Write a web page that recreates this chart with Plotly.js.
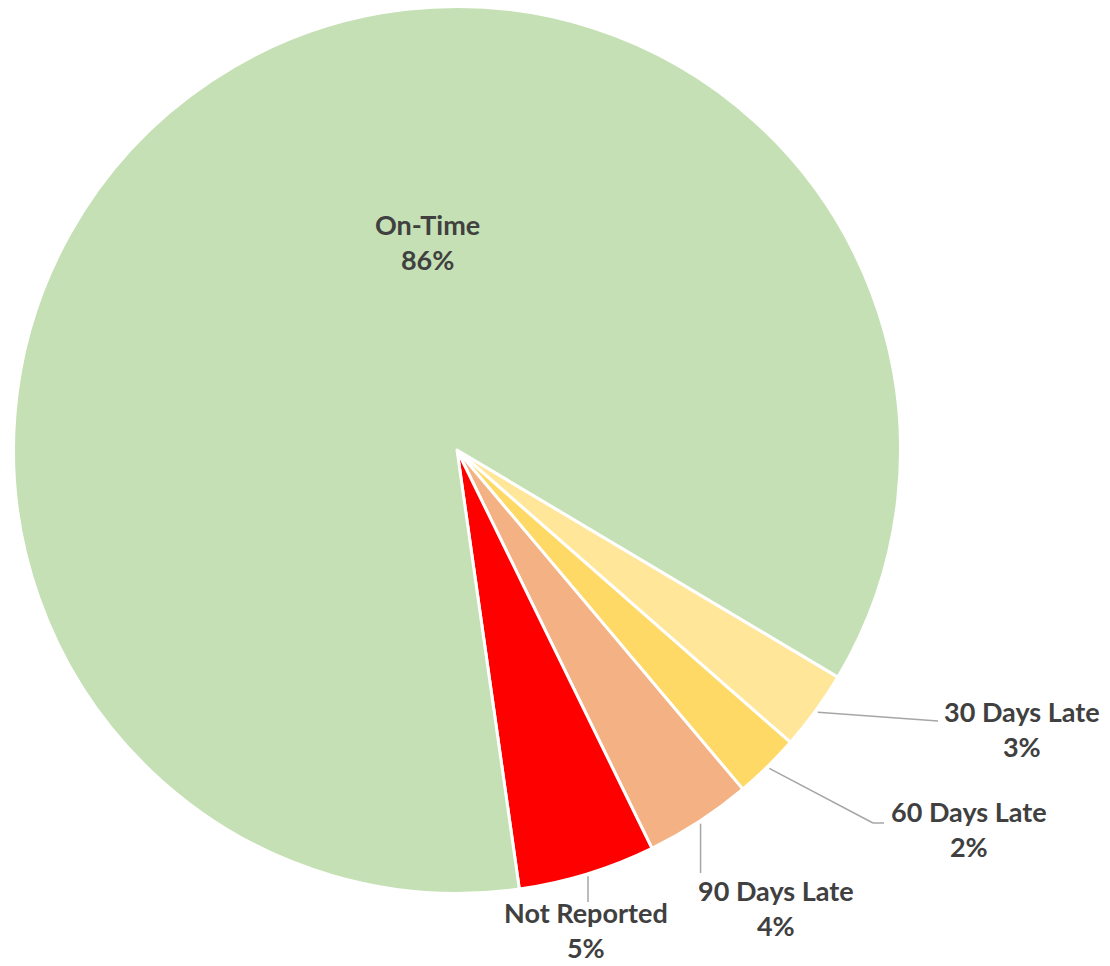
<!DOCTYPE html>
<html><head><meta charset="utf-8">
<script src="https://cdn.plot.ly/plotly-3.0.1.min.js"></script>
<style>html,body{margin:0;padding:0;background:#fff;}</style>
</head><body><div id="chart" style="width:1110px;height:966px;"></div>
<script>
// ---- data ----
const categories = ['30 Days Late', '60 Days Late', '90 Days Late', 'Not Reported', 'On-Time'];
const shares = [2.9, 2.4, 3.9, 5.0, 85.8];
const sliceColors = ['#ffe699', '#ffd966', '#f4b183', '#ff0000', '#c5e0b4'];

// ---- layout geometry (pixels) ----
const W = 1110, H = 966;
const CX = 457, CY = 450, R = 443.5;
const ROTATION = 120.8; // degrees clockwise from 12 o'clock
const LABEL_FONT = {family: 'Lato, "Open Sans", sans-serif', size: 27, color: '#404040', weight: 'bold'};
const LINE_COLOR = '#a6a6a6';

// label placement per category (pixel layout), leader path after the slice edge point
const placement = {
  '30 Days Late': {x: 1022, y: 729, path: e => [[938, 721]]},
  '60 Days Late': {x: 969, y: 829, path: e => [[873, 823], [884, 823]]},
  '90 Days Late': {x: 776, y: 908, path: e => [[e[0], 873]]},
  'Not Reported': {x: 586, y: 930, path: e => [[e[0], 902]]},
  'On-Time': {x: 427, y: 242, path: null}
};

const total = shares.reduce((a, b) => a + b, 0);
const px = x => x / W;
const py = y => 1 - y / H;

const shapes = [];
const annotations = [];
let acc = 0;
categories.forEach((cat, i) => {
  const startDeg = ROTATION + acc / total * 360;
  acc += shares[i];
  const endDeg = ROTATION + acc / total * 360;
  const mid = (startDeg + endDeg) / 2 * Math.PI / 180;
  const edge = [CX + (R + 2.5) * Math.sin(mid), CY - (R + 2.5) * Math.cos(mid)];
  const pl = placement[cat];
  const pct = Math.round(shares[i] / total * 100) + '%';
  annotations.push({
    x: px(pl.x), y: py(pl.y), xref: 'paper', yref: 'paper',
    xanchor: 'center', yanchor: 'middle', align: 'center',
    showarrow: false, text: cat + '<br>' + pct, font: LABEL_FONT
  });
  if (pl.path) {
    const pts = [edge].concat(pl.path(edge));
    for (let k = 0; k < pts.length - 1; k++) {
      shapes.push({
        type: 'line', xref: 'paper', yref: 'paper',
        x0: px(pts[k][0]), y0: py(pts[k][1]), x1: px(pts[k + 1][0]), y1: py(pts[k + 1][1]),
        line: {color: LINE_COLOR, width: 1.5}
      });
    }
  }
});

const trace = {
  type: 'pie',
  labels: categories,
  values: shares,
  sort: false,
  direction: 'clockwise',
  rotation: ROTATION,
  marker: {colors: sliceColors, line: {color: '#ffffff', width: 3}},
  textinfo: 'none',
  textposition: 'none',
  hoverinfo: 'none',
  domain: {x: [(CX - R) / W, (CX + R) / W], y: [1 - (CY + R) / H, 1 - (CY - R) / H]}
};

const layout = {
  width: W, height: H,
  margin: {l: 0, r: 0, t: 0, b: 0},
  paper_bgcolor: '#ffffff',
  showlegend: false,
  shapes: shapes,
  annotations: annotations
};

Plotly.newPlot('chart', [trace], layout, {displayModeBar: false, staticPlot: true});
</script>
</body></html>
